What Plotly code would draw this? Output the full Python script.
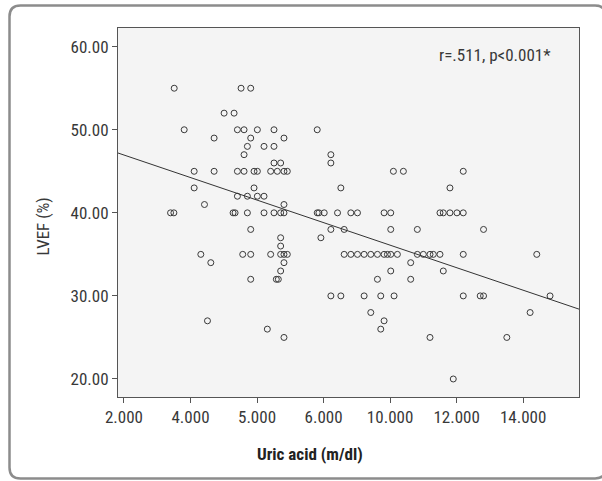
import plotly.graph_objects as go

# ---- data (x on the chart's equally spaced axis scale; labels below) ----
lvef_levels = [55, 52, 50, 49, 48, 47, 46, 45, 43, 42, 41, 40, 38, 37, 36, 35,
               34, 33, 32, 30, 28, 27, 26, 25, 20]
uric_by_level = [
    [3.51, 5.52, 5.81],
    [5.01, 5.31],
    [3.81, 5.41, 5.61, 6.01, 6.51, 7.81],
    [4.71, 5.81, 6.81],
    [5.71, 6.21, 6.51],
    [5.61, 8.22],
    [6.51, 6.71, 8.22],
    [4.11, 4.71, 5.41, 5.61, 5.91, 6.01, 6.41, 6.61, 6.81, 6.91, 10.10, 10.40, 12.20],
    [4.11, 5.91, 8.52, 11.80],
    [5.41, 5.71, 6.01, 6.21],
    [4.42, 6.81],
    [3.40, 3.50, 5.28, 5.34, 5.71, 6.21, 6.51, 6.71, 6.81, 7.81, 7.86, 8.02, 8.42,
     8.82, 9.02, 9.82, 10.02, 11.50, 11.60, 11.80, 12.01, 12.20],
    [5.81, 8.22, 8.62, 10.02, 10.82, 12.81],
    [6.71, 7.92],
    [6.71],
    [4.31, 5.57, 5.81, 6.41, 6.71, 6.81, 6.91, 8.62, 8.82, 9.02, 9.22, 9.42, 9.62,
     9.82, 9.92, 10.02, 10.22, 10.82, 11.00, 11.20, 11.30, 11.50, 12.20, 14.41],
    [4.61, 6.81, 10.62],
    [6.71, 10.02, 11.60],
    [5.81, 6.58, 6.64, 9.62, 10.62],
    [8.22, 8.52, 9.22, 9.72, 10.12, 12.20, 12.71, 12.81, 14.81],
    [9.42, 14.21],
    [4.51, 9.82],
    [6.31, 9.72],
    [6.81, 11.20, 13.51],
    [11.90],
]
uric_acid = [x for xs in uric_by_level for x in xs]
lvef = [lv for lv, xs in zip(lvef_levels, uric_by_level) for _ in xs]

x_tickvals = [2, 4, 6, 8, 10, 12, 14]
x_ticktext = ["2.000", "4.000", "5.000", "6.000", "10.000", "12.000", "14.000"]
y_tickvals = [20, 30, 40, 50, 60]
y_ticktext = ["20.00", "30.00", "40.00", "50.00", "60.00"]

fit_intercept = 49.67
fit_slope = -1.356
stat_text = "r=.511, p<0.001*"

x_range = [1.82, 15.68]
y_range = [17.83, 62.25]

# ---- layout geometry ----
W, H = 602, 481
L, R, T, B = 118, 23, 28, 84
pw, ph = W - L - R, H - T - B

def px(xp):
    return (xp - L) / pw

def py(yp):
    return (H - B - yp) / ph

FONT = "Liberation Sans Narrow, Arial Narrow, Roboto Condensed, DejaVu Sans Condensed, Arial, sans-serif"
TXT = "#383838"

fig = go.Figure()
fig.add_trace(go.Scatter(
    x=uric_acid, y=lvef, mode="markers",
    marker=dict(symbol="circle-open", size=6, color="#3a3a3a", line=dict(width=1)),
    showlegend=False, hoverinfo="x+y",
))
fig.add_trace(go.Scatter(
    x=x_range, y=[fit_intercept + fit_slope * v for v in x_range],
    mode="lines", line=dict(color="#333333", width=1), showlegend=False,
))

# rounded outer panel
x0, x1 = px(9.5), px(606)
y0, y1 = py(5.5), py(478.5)
rx, ry = 11 / pw, 11 / ph
path = (f"M {x0+rx},{y0} L {x1-rx},{y0} Q {x1},{y0} {x1},{y0-ry} "
        f"L {x1},{y1+ry} Q {x1},{y1} {x1-rx},{y1} L {x0+rx},{y1} "
        f"Q {x0},{y1} {x0},{y1+ry} L {x0},{y0-ry} Q {x0},{y0} {x0+rx},{y0} Z")
fig.add_shape(type="path", path=path, xref="paper", yref="paper",
              line=dict(color="#8c8c8c", width=2.5), layer="below")

fig.add_annotation(text=stat_text, xref="paper", yref="paper",
                   x=px(553), y=py(55), xanchor="right", yanchor="middle",
                   showarrow=False, font=dict(family=FONT, size=17, color=TXT))
fig.add_annotation(text="<b>Uric acid (m/dl)</b>", xref="paper", yref="paper",
                   x=px(310), y=py(454), xanchor="center", yanchor="middle",
                   showarrow=False, font=dict(family=FONT, size=17, color="#222"))
fig.add_annotation(text="LVEF (%)", xref="paper", yref="paper", textangle=-90,
                   x=px(42.5), y=py(227), xanchor="center", yanchor="middle",
                   showarrow=False, font=dict(family=FONT, size=17, color=TXT))

axis_common = dict(showgrid=False, zeroline=False, showline=True, linecolor="#555555",
                   linewidth=1, mirror=True, ticks="outside", tickcolor="#555555",
                   ticklen=5, tickwidth=1, tickfont=dict(family=FONT, size=17, color=TXT))
fig.update_xaxes(range=x_range, tickmode="array", tickvals=x_tickvals,
                 ticktext=x_ticktext, **axis_common)
fig.update_yaxes(range=y_range, tickmode="array", tickvals=y_tickvals,
                 ticktext=y_ticktext, **axis_common)

fig.update_layout(
    width=W, height=H, margin=dict(l=L, r=R, t=T, b=B, autoexpand=False),
    plot_bgcolor="#f4f4f4", paper_bgcolor="white",
    font=dict(family=FONT, color=TXT),
)
fig.write_html("out.html", config={"displayModeBar": False},
               post_script="document.body.style.margin='0';document.body.style.overflow='hidden';")
